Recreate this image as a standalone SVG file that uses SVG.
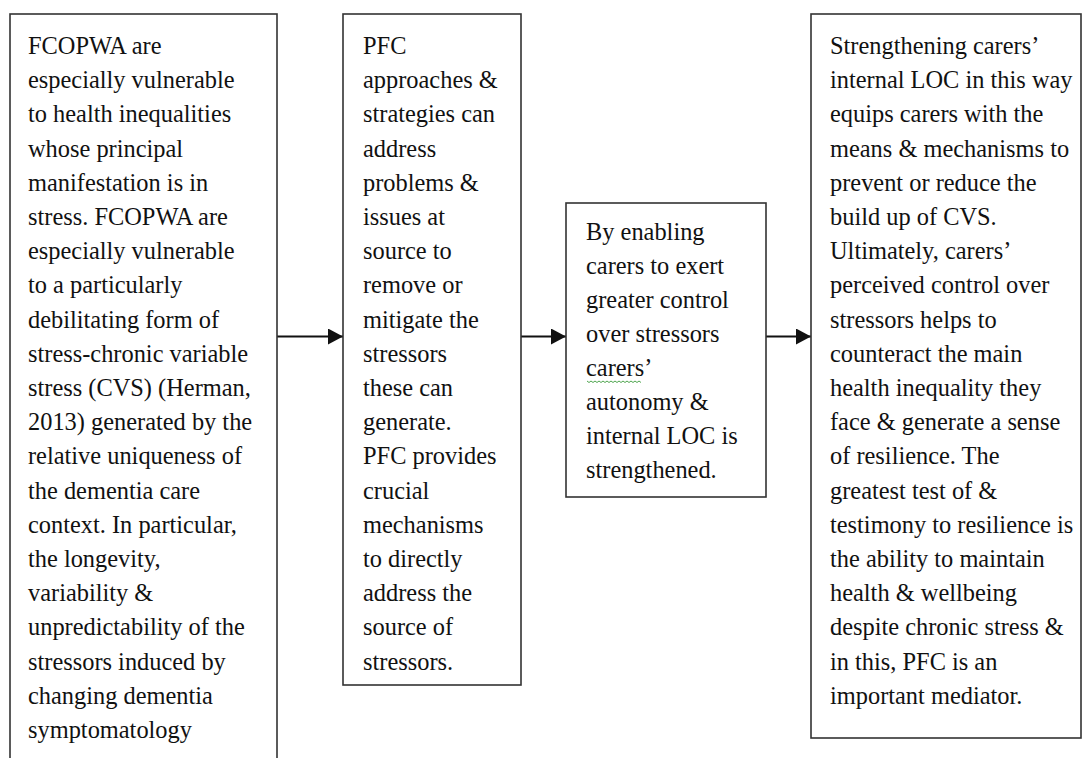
<svg xmlns="http://www.w3.org/2000/svg" width="1083" height="758" viewBox="0 0 1083 758">
<defs>
<style>
.box{fill:#fff;stroke:#333;stroke-width:1.6}
.t{font-family:"Liberation Serif","Times New Roman",serif;font-size:24.4px;fill:#111}
.c{stroke:#111;stroke-width:2;fill:none}
</style>
<marker id="ah" markerWidth="15" markerHeight="16" refX="15" refY="8" orient="auto" markerUnits="userSpaceOnUse">
<path d="M0,0 L15,8 L0,16 Z" fill="#111"/>
</marker>
</defs>
<rect x="0" y="0" width="1083" height="758" fill="#fff"/>
<g id="connectors">
<line class="c" x1="277" y1="336.5" x2="343" y2="336.5" marker-end="url(#ah)"/>
<line class="c" x1="521" y1="336.5" x2="566" y2="336.5" marker-end="url(#ah)"/>
<line class="c" x1="766" y1="336.5" x2="811" y2="336.5" marker-end="url(#ah)"/>
</g>
<g id="node1">
<rect class="box" x="10" y="14" width="267" height="760"/>
<text class="t">
<tspan x="28" y="54">FCOPWA are</tspan>
<tspan x="28" y="88.2">especially vulnerable</tspan>
<tspan x="28" y="122.4">to health inequalities</tspan>
<tspan x="28" y="156.6">whose principal</tspan>
<tspan x="28" y="190.8">manifestation is in</tspan>
<tspan x="28" y="225">stress. FCOPWA are</tspan>
<tspan x="28" y="259.2">especially vulnerable</tspan>
<tspan x="28" y="293.4">to a particularly</tspan>
<tspan x="28" y="327.6">debilitating form of</tspan>
<tspan x="28" y="361.8">stress-chronic variable</tspan>
<tspan x="28" y="396">stress (CVS) (Herman,</tspan>
<tspan x="28" y="430.2">2013) generated by the</tspan>
<tspan x="28" y="464.4">relative uniqueness of</tspan>
<tspan x="28" y="498.6">the dementia care</tspan>
<tspan x="28" y="532.8">context. In particular,</tspan>
<tspan x="28" y="567">the longevity,</tspan>
<tspan x="28" y="601.2">variability &amp;</tspan>
<tspan x="28" y="635.4">unpredictability of the</tspan>
<tspan x="28" y="669.6">stressors induced by</tspan>
<tspan x="28" y="703.8">changing dementia</tspan>
<tspan x="28" y="738">symptomatology</tspan>
</text>
</g>
<g id="node2">
<rect class="box" x="343" y="14" width="178" height="671"/>
<text class="t">
<tspan x="363" y="54">PFC</tspan>
<tspan x="363" y="88.2">approaches &amp;</tspan>
<tspan x="363" y="122.4">strategies can</tspan>
<tspan x="363" y="156.6">address</tspan>
<tspan x="363" y="190.8">problems &amp;</tspan>
<tspan x="363" y="225">issues at</tspan>
<tspan x="363" y="259.2">source to</tspan>
<tspan x="363" y="293.4">remove or</tspan>
<tspan x="363" y="327.6">mitigate the</tspan>
<tspan x="363" y="361.8">stressors</tspan>
<tspan x="363" y="396">these can</tspan>
<tspan x="363" y="430.2">generate.</tspan>
<tspan x="363" y="464.4">PFC provides</tspan>
<tspan x="363" y="498.6">crucial</tspan>
<tspan x="363" y="532.8">mechanisms</tspan>
<tspan x="363" y="567">to directly</tspan>
<tspan x="363" y="601.2">address the</tspan>
<tspan x="363" y="635.4">source of</tspan>
<tspan x="363" y="669.6">stressors.</tspan>
</text>
</g>
<g id="node3">
<rect class="box" x="566" y="203" width="200" height="294"/>
<text class="t">
<tspan x="586" y="240">By enabling</tspan>
<tspan x="586" y="274">carers to exert</tspan>
<tspan x="586" y="308">greater control</tspan>
<tspan x="586" y="342">over stressors</tspan>
<tspan x="586" y="376">carers’</tspan>
<tspan x="586" y="410">autonomy &amp;</tspan>
<tspan x="586" y="444">internal LOC is</tspan>
<tspan x="586" y="478">strengthened.</tspan>
</text>
<path d="M587,381 l2,1.5 l2,-1.5 l2,1.5 l2,-1.5 l2,1.5 l2,-1.5 l2,1.5 l2,-1.5 l2,1.5 l2,-1.5 l2,1.5 l2,-1.5 l2,1.5 l2,-1.5 l2,1.5 l2,-1.5 l2,1.5 l2,-1.5 l2,1.5 l2,-1.5 l2,1.5 l2,-1.5 l2,1.5 l2,-1.5 l2,1.5 l2,-1.5 l2,1.5" fill="none" stroke="#3a9a3a" stroke-width="0.9"/>
</g>
<g id="node4">
<rect class="box" x="811" y="14" width="270" height="724"/>
<text class="t">
<tspan x="830" y="54">Strengthening carers’</tspan>
<tspan x="830" y="88.2">internal LOC in this way</tspan>
<tspan x="830" y="122.4">equips carers with the</tspan>
<tspan x="830" y="156.6">means &amp; mechanisms to</tspan>
<tspan x="830" y="190.8">prevent or reduce the</tspan>
<tspan x="830" y="225">build up of CVS.</tspan>
<tspan x="830" y="259.2">Ultimately, carers’</tspan>
<tspan x="830" y="293.4">perceived control over</tspan>
<tspan x="830" y="327.6">stressors helps to</tspan>
<tspan x="830" y="361.8">counteract the main</tspan>
<tspan x="830" y="396">health inequality they</tspan>
<tspan x="830" y="430.2">face &amp; generate a sense</tspan>
<tspan x="830" y="464.4">of resilience. The</tspan>
<tspan x="830" y="498.6">greatest test of &amp;</tspan>
<tspan x="830" y="532.8">testimony to resilience is</tspan>
<tspan x="830" y="567">the ability to maintain</tspan>
<tspan x="830" y="601.2">health &amp; wellbeing</tspan>
<tspan x="830" y="635.4">despite chronic stress &amp;</tspan>
<tspan x="830" y="669.6">in this, PFC is an</tspan>
<tspan x="830" y="703.8">important mediator.</tspan>
</text>
</g>
</svg>
